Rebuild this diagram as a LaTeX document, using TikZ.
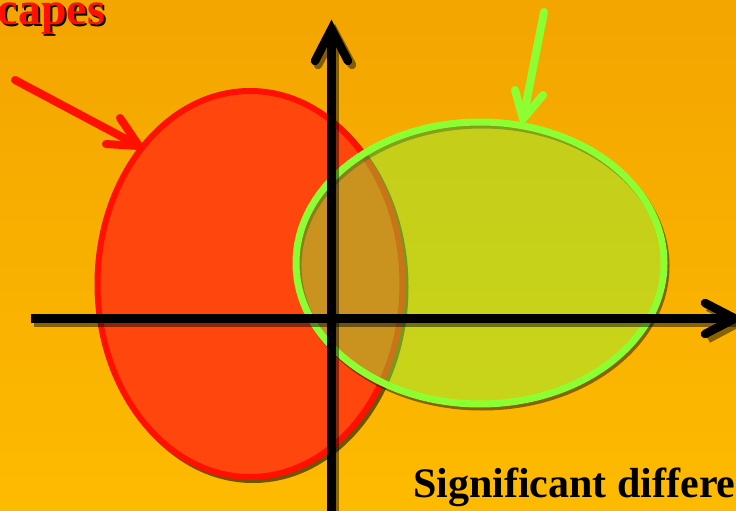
\documentclass[tikz,border=0pt]{standalone}
\usepackage{fontspec}
\setmainfont{Liberation Serif}
\definecolor{bgtop}{RGB}{243,165,0}
\definecolor{bgbot}{RGB}{253,187,0}
\definecolor{redline}{RGB}{255,16,0}
\definecolor{redfill}{RGB}{255,70,12}
\definecolor{grn}{RGB}{140,255,50}
\definecolor{grnfill}{RGB}{131,255,60}
\begin{document}
\begin{tikzpicture}[x=1pt,y=-1pt,
  axis/.style={line width=8.5pt,black},
  shadowline/.style={line width=8.5pt,black,opacity=0.45},
  pointer/.style={line width=8pt,line cap=round,line join=round},
  title/.style={font=\bfseries\fontsize{42}{42}\selectfont,inner sep=0pt},
  bigtitle/.style={font=\bfseries\fontsize{46}{46}\selectfont,inner sep=0pt}]
\useasboundingbox (0,0) rectangle (736,511);
\shade[top color=bgtop,bottom color=bgbot] (0,0) rectangle (736,511);
% red ellipse
\draw[line width=6pt,black,opacity=0.55] (253,287) ellipse [x radius=152.5,y radius=193];
\draw[line width=6pt,draw=redline,fill=redfill] (250,284) ellipse [x radius=152.5,y radius=193];
% green ellipse
\draw[line width=7pt,black,opacity=0.45] (482,266) ellipse [x radius=184,y radius=141];
\fill[grnfill,opacity=0.42] (480,263) ellipse [x radius=184,y radius=141];
\draw[line width=7pt,grn] (480,263) ellipse [x radius=184,y radius=141];
% axes shadows
\draw[shadowline] (34,322.5) -- (736,322.5);
\draw[shadowline,line join=miter] (708,307) -- (738,323) -- (708,339);
\draw[shadowline] (335,511) -- (335,34);
\draw[shadowline,line join=miter,line cap=round] (318,65) -- (335,33) -- (352,65);
% axes
\coordinate (hs) at (31,318.5);
\coordinate (ht) at (735,318.5);
\coordinate (vs) at (331.5,511);
\coordinate (vt) at (331.5,29);
\draw[axis] (hs) -- (ht);
\draw[axis,line join=miter,line cap=round] (705,303) -- (ht) -- (705,334);
\draw[axis] (vs) -- (vt);
\draw[axis,line join=miter,line cap=round] (315,61) -- (vt) -- (348,61);
% pointers
\coordinate (rs) at (15,80);
\coordinate (rt) at (139,146);
\draw[pointer,redline] (rs) -- (rt);
\draw[pointer,redline] (120,118) -- (rt) -- (106,144);
\coordinate (gs) at (544,12);
\coordinate (gt) at (523,119);
\draw[pointer,grn] (gs) -- (gt);
\draw[pointer,grn] (515,90) -- (gt) -- (543,95);
% texts
\node[bigtitle,anchor=base east,black] at (107.5,26.5) {capes};
\node[bigtitle,anchor=base east,redline] (capes) at (105.5,24.5) {capes};
\node[title,anchor=base west,black] (sig) at (413,497) {Significant differe};
\end{tikzpicture}
\end{document}
